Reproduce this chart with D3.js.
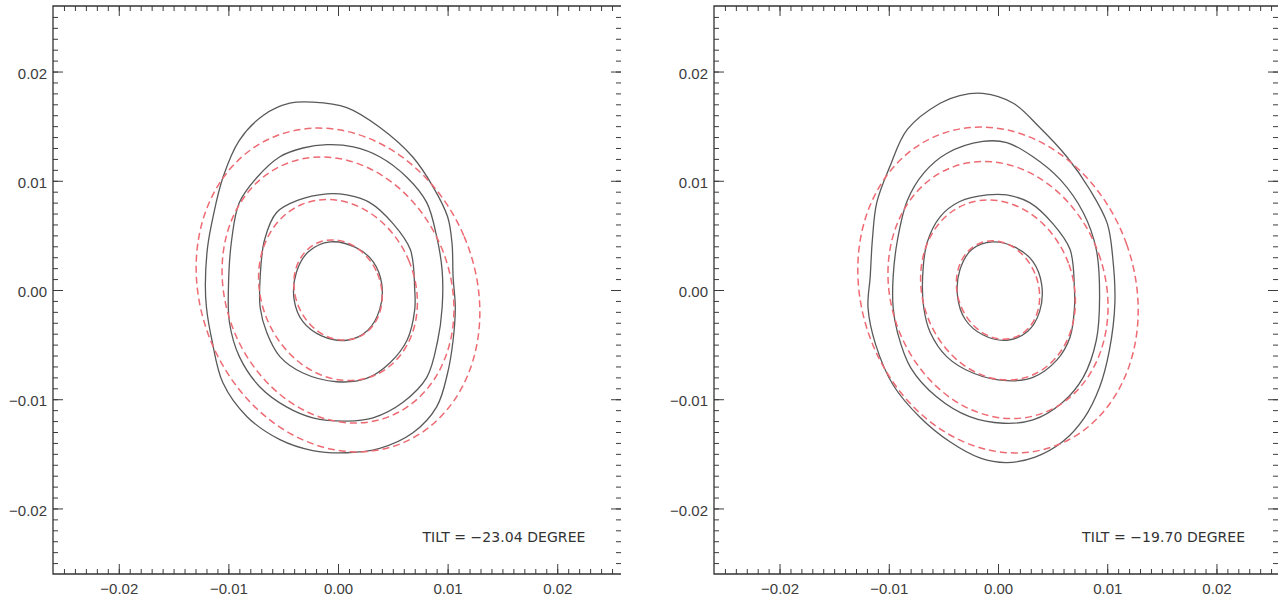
<!DOCTYPE html>
<html>
<head>
<meta charset="utf-8">
<script src="https://cdn.jsdelivr.net/npm/d3@7"></script>
<style>
  body { margin: 0; background: #fff; }
  svg { display: block; }
</style>
</head>
<body>
<svg id="chart" width="1286" height="601"></svg>
<script>
var leftC1 = [[-0.0007,0.0044],[0.0016,0.0039],[0.0032,0.0026],[0.0040,0.0005],[0.0038,-0.0018],[0.0027,-0.0037],
  [0.0008,-0.0046],[-0.0015,-0.0042],[-0.0032,-0.0029],[-0.0040,-0.0009],[-0.0038,0.0016],[-0.0027,0.0035]];
var leftC2 = [[-0.0010,0.0088],[0.0008,0.0087],[0.0029,0.0080],[0.0050,0.0061],[0.0066,0.0037],[0.0070,0.0000],
  [0.0070,-0.0018],[0.0063,-0.0046],[0.0047,-0.0067],[0.0026,-0.0081],[-0.0001,-0.0084],[-0.0032,-0.0076],
  [-0.0053,-0.0061],[-0.0065,-0.0039],[-0.0071,-0.0016],[-0.0071,0.0012],[-0.0067,0.0046],[-0.0056,0.0071],[-0.0037,0.0082]];
var leftC3 = [[-0.0010,0.0133],[0.0014,0.0131],[0.0038,0.0122],[0.0063,0.0103],[0.0081,0.0080],[0.0090,0.0049],
  [0.0095,0.0018],[0.0095,-0.0016],[0.0091,-0.0046],[0.0081,-0.0080],[0.0059,-0.0103],[0.0032,-0.0117],
  [0.0008,-0.0120],[-0.0023,-0.0117],[-0.0047,-0.0107],[-0.0071,-0.0089],[-0.0090,-0.0061],[-0.0099,-0.0030],
  [-0.0100,0.0000],[-0.0097,0.0046],[-0.0090,0.0080],[-0.0074,0.0103],[-0.0053,0.0122],[-0.0032,0.0130]];
var leftC4 = [[-0.0023,0.0172],[0.0008,0.0167],[0.0038,0.0149],[0.0068,0.0122],[0.0087,0.0094],[0.0100,0.0067],
  [0.0104,0.0043],[0.0105,0.0012],[0.0107,-0.0016],[0.0105,-0.0046],[0.0100,-0.0076],[0.0090,-0.0107],
  [0.0068,-0.0131],[0.0038,-0.0145],[0.0008,-0.0149],[-0.0023,-0.0147],[-0.0053,-0.0137],[-0.0083,-0.0116],
  [-0.0105,-0.0085],[-0.0115,-0.0046],[-0.0120,-0.0016],[-0.0121,0.0005],[-0.0119,0.0039],[-0.0114,0.0067],
  [-0.0105,0.0103],[-0.0090,0.0137],[-0.0068,0.0160],[-0.0044,0.0171]];

// right panel
var rightC1 = [[-0.0005,0.0044],[0.0016,0.0039],[0.0032,0.0026],[0.0040,0.0005],[0.0038,-0.0020],[0.0027,-0.0038],
  [0.0008,-0.0046],[-0.0014,-0.0041],[-0.0030,-0.0027],[-0.0037,-0.0006],[-0.0035,0.0018],[-0.0024,0.0037]];
var rightC2 = [[-0.0010,0.0087],[0.0008,0.0087],[0.0029,0.0080],[0.0050,0.0061],[0.0066,0.0037],[0.0070,0.0000],
  [0.0070,-0.0016],[0.0066,-0.0043],[0.0054,-0.0064],[0.0032,-0.0080],[0.0008,-0.0083],[-0.0023,-0.0076],
  [-0.0047,-0.0061],[-0.0062,-0.0039],[-0.0068,-0.0016],[-0.0069,0.0012],[-0.0065,0.0043],[-0.0053,0.0067],[-0.0035,0.0081]];
var rightC3 = [[-0.0014,0.0136],[0.0008,0.0135],[0.0032,0.0122],[0.0057,0.0101],[0.0078,0.0071],[0.0090,0.0037],
  [0.0093,-0.0006],[0.0090,-0.0046],[0.0078,-0.0080],[0.0059,-0.0103],[0.0032,-0.0119],[0.0005,-0.0122],
  [-0.0026,-0.0116],[-0.0056,-0.0098],[-0.0080,-0.0071],[-0.0092,-0.0039],[-0.0096,-0.0016],[-0.0096,0.0012],
  [-0.0092,0.0046],[-0.0083,0.0082],[-0.0068,0.0107],[-0.0047,0.0125]];
var rightC4 = [[-0.0014,0.0180],[0.0014,0.0171],[0.0038,0.0149],[0.0063,0.0122],[0.0084,0.0092],[0.0100,0.0061],
  [0.0105,0.0030],[0.0107,-0.0012],[0.0102,-0.0055],[0.0093,-0.0089],[0.0079,-0.0117],[0.0059,-0.0139],
  [0.0034,-0.0153],[0.0008,-0.0158],[-0.0016,-0.0154],[-0.0044,-0.0139],[-0.0071,-0.0117],[-0.0096,-0.0087],
  [-0.0112,-0.0050],[-0.0119,-0.0016],[-0.0117,0.0012],[-0.0115,0.0046],[-0.0111,0.0080],[-0.0099,0.0113],
  [-0.0083,0.0147],[-0.0053,0.0171],[-0.0035,0.0178]];

// fitted ellipses: semi-major / semi-minor axes, tilt in degrees
var leftMajor = [0.0047, 0.0085, 0.0125, 0.0152];
var leftMinor = [0.0039, 0.0070, 0.0102, 0.0125];
var rightMajor = [0.0046, 0.0084, 0.0120, 0.0152];
var rightMinor = [0.0037, 0.0069, 0.0098, 0.0125];
var tilts = [-23.04, -19.70];
var tiltLabels = ["TILT = \u221223.04 DEGREE", "TILT = \u221219.70 DEGREE"];

var majorTicks = [-0.02, -0.01, 0, 0.01, 0.02];
var tickLabels = ["\u22120.02", "\u22120.01", "0.00", "0.01", "0.02"];
var minorTicks = d3.range(-26, 27).map(function(i) { return i / 1000; });

var svg = d3.select("#chart");

var panels = [
  { left: 53, right: 623, edge: 621, contours: [leftC1, leftC2, leftC3, leftC4],
    major: leftMajor, minor: leftMinor, tilt: tilts[0], label: tiltLabels[0] },
  { left: 714, right: 1282, edge: 1278, contours: [rightC1, rightC2, rightC3, rightC4],
    major: rightMajor, minor: rightMinor, tilt: tilts[1], label: tiltLabels[1] }
];

var yTop = 6, yBottom = 574;

function styleAxis(g) {
  g.select(".domain").remove();
  g.attr("color", "#3c3c3c").attr("font-family", "'Liberation Sans', Arial, sans-serif")
    .attr("font-size", 15);
  g.selectAll("line").attr("stroke-width", 1);
}

panels.forEach(function(p) {
  var x = d3.scaleLinear().domain([-0.026, 0.026]).range([p.left, p.right]);
  var y = d3.scaleLinear().domain([-0.026, 0.026]).range([yBottom, yTop]);
  var g = svg.append("g");
  var inside = minorTicks.filter(function(d) { return x(d) > p.left + 1 && x(d) < p.edge - 1; });
  var insideY = minorTicks.filter(function(d) { return y(d) > yTop + 1 && y(d) < yBottom - 1; });

  // minor ticks on all four sides
  g.append("g").attr("transform", "translate(0," + yBottom + ")")
    .call(d3.axisBottom(x).tickValues(inside).tickSize(-5).tickFormat("")).call(styleAxis);
  g.append("g").attr("transform", "translate(0," + yTop + ")")
    .call(d3.axisTop(x).tickValues(inside).tickSize(-5).tickFormat("")).call(styleAxis);
  g.append("g").attr("transform", "translate(" + p.left + ",0)")
    .call(d3.axisLeft(y).tickValues(insideY).tickSize(-5).tickFormat("")).call(styleAxis);
  g.append("g").attr("transform", "translate(" + p.edge + ",0)")
    .call(d3.axisRight(y).tickValues(insideY).tickSize(-5).tickFormat("")).call(styleAxis);

  // major ticks + labels
  g.append("g").attr("transform", "translate(0," + yBottom + ")")
    .call(d3.axisBottom(x).tickValues(majorTicks).tickSize(-10).tickPadding(9)
      .tickFormat(function(d, i) { return tickLabels[i]; })).call(styleAxis);
  g.append("g").attr("transform", "translate(0," + yTop + ")")
    .call(d3.axisTop(x).tickValues(majorTicks).tickSize(-10).tickFormat("")).call(styleAxis);
  var ly = g.append("g").attr("transform", "translate(" + p.left + ",0)")
    .call(d3.axisLeft(y).tickValues(majorTicks).tickSize(-10).tickPadding(6)
      .tickFormat(function(d, i) { return tickLabels[i]; })).call(styleAxis);
  ly.selectAll("text").attr("dy", "0.44em");
  g.append("g").attr("transform", "translate(" + p.edge + ",0)")
    .call(d3.axisRight(y).tickValues(majorTicks).tickSize(-10).tickFormat("")).call(styleAxis);

  // frame (right side has ticks only)
  g.append("path")
    .attr("d", "M" + p.edge + "," + yTop + "H" + p.left + "V" + yBottom + "H" + p.edge)
    .attr("fill", "none").attr("stroke", "#333").attr("stroke-width", 1.3);

  // measured contours
  var line = d3.line()
    .x(function(d) { return x(d[0]); })
    .y(function(d) { return y(d[1]); })
    .curve(d3.curveCatmullRomClosed.alpha(0.5));
  g.selectAll("path.contour").data(p.contours).enter().append("path")
    .attr("class", "contour")
    .attr("d", line)
    .attr("fill", "none").attr("stroke", "#595959").attr("stroke-width", 1.3);

  // fitted ellipses
  var cx = x(0), cy = y(0);
  g.selectAll("ellipse").data(p.major).enter().append("ellipse")
    .attr("cx", cx).attr("cy", cy)
    .attr("rx", function(d, i) { return x(p.minor[i]) - cx; })
    .attr("ry", function(d) { return cy - y(d); })
    .attr("transform", "rotate(" + p.tilt + "," + cx + "," + cy + ")")
    .attr("fill", "none").attr("stroke", "#ee6b74").attr("stroke-width", 1.5)
    .attr("stroke-dasharray", "7,4");

  g.append("text")
    .attr("x", x(0.0077)).attr("y", y(-0.0231))
    .attr("textLength", 163).attr("lengthAdjust", "spacing")
    .attr("font-family", "'DejaVu Sans', sans-serif").attr("font-size", 14)
    .attr("fill", "#333")
    .text(p.label);
});
</script>
</body>
</html>
